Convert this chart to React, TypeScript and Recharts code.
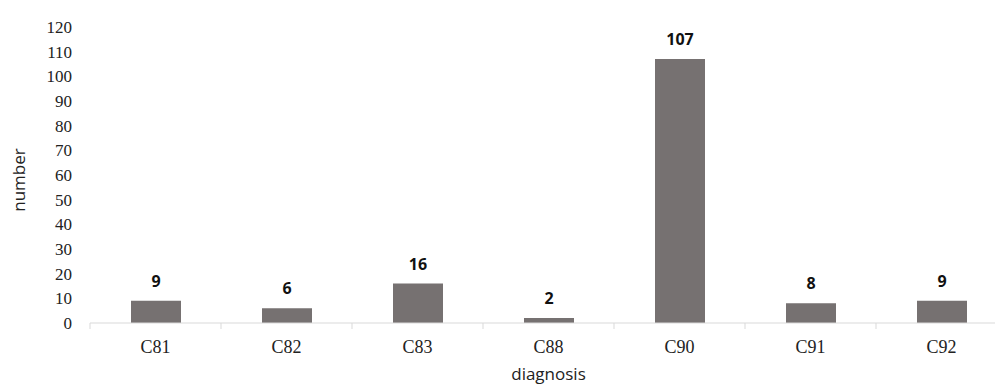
import React from 'react';
import { BarChart, Bar, XAxis, YAxis, LabelList, Label } from 'recharts';

const diagnoses = ['C81', 'C82', 'C83', 'C88', 'C90', 'C91', 'C92'];
const counts = [9, 6, 16, 2, 107, 8, 9];
const yTicks = [0, 10, 20, 30, 40, 50, 60, 70, 80, 90, 100, 110, 120];

const data = diagnoses.map((d, i) => ({ diagnosis: d, number: counts[i] }));

const CHART_W = 1012;
const MARGIN = { top: 27, right: 5, bottom: 0, left: 30 };
const Y_AXIS_W = 60;
// width of one category band, used to put tick marks on the band edges
const BAND = (CHART_W - MARGIN.left - MARGIN.right - Y_AXIS_W) / diagnoses.length;

// category tick: label under the band, small tick marks on the band boundaries
const DiagnosisTick = (props: any) => {
  const { x, y, payload, index } = props;
  const left = x - BAND / 2;
  const right = x + BAND / 2;
  return (
    <g>
      <line x1={left} y1={y} x2={left} y2={y + 6} stroke="#d9d9d9" />
      {index === diagnoses.length - 1 && (
        <line x1={right} y1={y} x2={right} y2={y + 6} stroke="#d9d9d9" />
      )}
      <text
        x={x}
        y={y + 30}
        textAnchor="middle"
        fill="#222"
        fontSize={18}
        fontFamily="Liberation Serif"
      >
        {payload.value}
      </text>
    </g>
  );
};

const App: React.FC = () => {
  return (
    <div style={{ position: 'absolute', left: 0, top: 0, width: 995, height: 385, overflow: 'hidden', background: '#fff' }}>
      <BarChart width={CHART_W} height={385} data={data} margin={MARGIN} style={{ overflow: 'visible' }}>
        <XAxis
          dataKey="diagnosis"
          axisLine={{ stroke: '#d9d9d9' }}
          tickLine={false}
          tickSize={0}
          tickMargin={0}
          height={62}
          interval={0}
          tick={<DiagnosisTick />}
        >
          <Label
            content={({ viewBox }: any) => (
              <text
                x={viewBox.x + viewBox.width / 2}
                y={380}
                textAnchor="middle"
                fill="#222"
                fontSize={17}
                fontFamily="Open Sans"
              >
                diagnosis
              </text>
            )}
          />
        </XAxis>
        <YAxis
          domain={[0, 120]}
          ticks={yTicks}
          interval={0}
          width={Y_AXIS_W}
          axisLine={false}
          tickLine={false}
          tickSize={0}
          tickMargin={18}
          tick={{ fill: '#222', fontSize: 17, fontFamily: 'Liberation Serif' }}
        >
          <Label
            content={({ viewBox }: any) => {
              const cx = 18;
              const cy = viewBox.y + viewBox.height / 2 + 5;
              return (
                <text
                  x={cx}
                  y={cy}
                  transform={`rotate(-90 ${cx} ${cy})`}
                  textAnchor="middle"
                  dominantBaseline="central"
                  fill="#222"
                  fontSize={17}
                  fontFamily="Open Sans"
                >
                  number
                </text>
              );
            }}
          />
        </YAxis>
        <Bar dataKey="number" fill="#767171" barSize={50} isAnimationActive={false}>
          <LabelList
            dataKey="number"
            position="top"
            offset={14}
            style={{ fill: '#111', fontSize: 16, fontWeight: 'bold', fontFamily: 'Open Sans' }}
          />
        </Bar>
      </BarChart>
    </div>
  );
};

export default App;
